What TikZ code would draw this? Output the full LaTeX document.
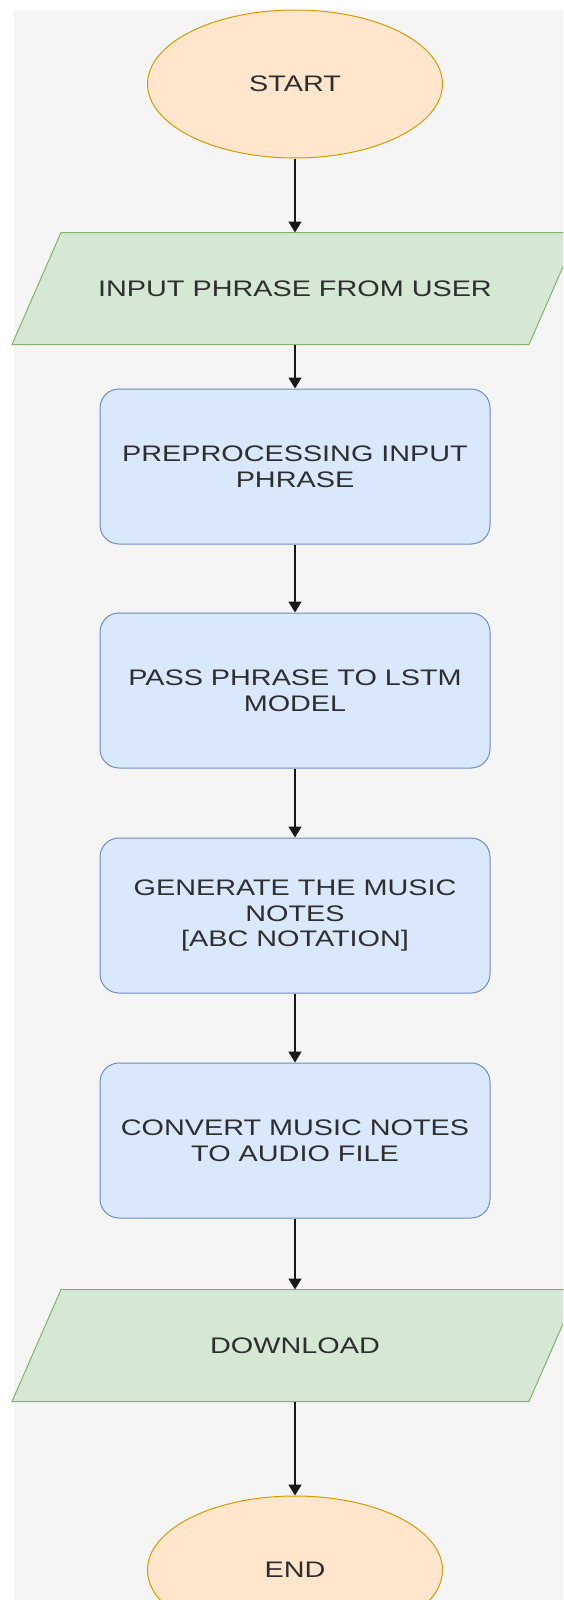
\documentclass[tikz,border=0pt]{standalone}
\usepackage{fontspec}
\setmainfont{Liberation Sans}[FakeStretch=1.28]
\usepackage{xcolor}
\usetikzlibrary{arrows.meta,positioning,shapes.geometric,backgrounds}

\definecolor{bgGray}{HTML}{F5F5F5}
\definecolor{termFill}{HTML}{FFE6CC}
\definecolor{termLine}{HTML}{D79B00}
\definecolor{ioFill}{HTML}{D5E8D4}
\definecolor{ioLine}{HTML}{82B366}
\definecolor{procFill}{HTML}{DAE8FC}
\definecolor{procLine}{HTML}{6C8EBF}
\definecolor{txtGray}{HTML}{2E2E2E}

\begin{document}
\begin{tikzpicture}[
    x=1pt, y=-1pt,
    every node/.style={text=txtGray, align=center, font=\fontsize{22.5}{25.5}\selectfont},
    terminal/.style={draw=termLine, fill=termFill, ellipse, minimum width=295pt, minimum height=148pt, line width=1pt},
    io/.style={minimum width=516pt, minimum height=111pt, inner sep=0pt, outer sep=0.5pt},
    ioshape/.style={draw=ioLine, fill=ioFill, line width=1pt},
    process/.style={draw=procLine, fill=procFill, rounded corners=19pt, minimum width=390pt, minimum height=155pt, line width=1pt},
    flow/.style={-{Triangle[width=13pt,length=11pt]}, line width=1.6pt, draw=black!90}
]

\useasboundingbox (0,0) rectangle (563,1600);
\clip (0,0) rectangle (563,1600);

% Start
\node[terminal] (start) at (295,84) {START};

% Input
\node[io, below=74pt of start] (input_phrase) {INPUT PHRASE FROM USER};

% Processing steps
\node[process, below=44pt of input_phrase] (preprocess) {PREPROCESSING INPUT\\PHRASE};
\node[process, below=68pt of preprocess] (lstm) {PASS PHRASE TO LSTM\\MODEL};
\node[process, below=69pt of lstm] (generate) {GENERATE THE MUSIC\\NOTES\\{[ABC NOTATION]}};
\node[process, below=69pt of generate] (convert) {CONVERT MUSIC NOTES\\TO AUDIO FILE};

% Output
\node[io, below=71pt of convert] (download) {DOWNLOAD};

% End
\node[terminal, below=94pt of download] (end_node) {END};

% Canvas and slanted input/output boxes behind the text
\begin{scope}[on background layer]
\clip (0,0) rectangle (563,1600);
\fill[bgGray] (14,10) rectangle (563,1600);
\foreach \n in {input_phrase, download}
    \draw[ioshape] ([xshift=-24.5pt]\n.south west) -- ([xshift=-24.5pt]\n.south east)
        -- ([xshift=24.5pt]\n.north east) -- ([xshift=24.5pt]\n.north west) -- cycle;
\end{scope}

% Connections
\draw[flow] (start) -- (input_phrase);
\draw[flow] (input_phrase) -- (preprocess);
\draw[flow] (preprocess) -- (lstm);
\draw[flow] (lstm) -- (generate);
\draw[flow] (generate) -- (convert);
\draw[flow] (convert) -- (download);
\draw[flow] (download) -- (end_node);

\end{tikzpicture}
\end{document}
